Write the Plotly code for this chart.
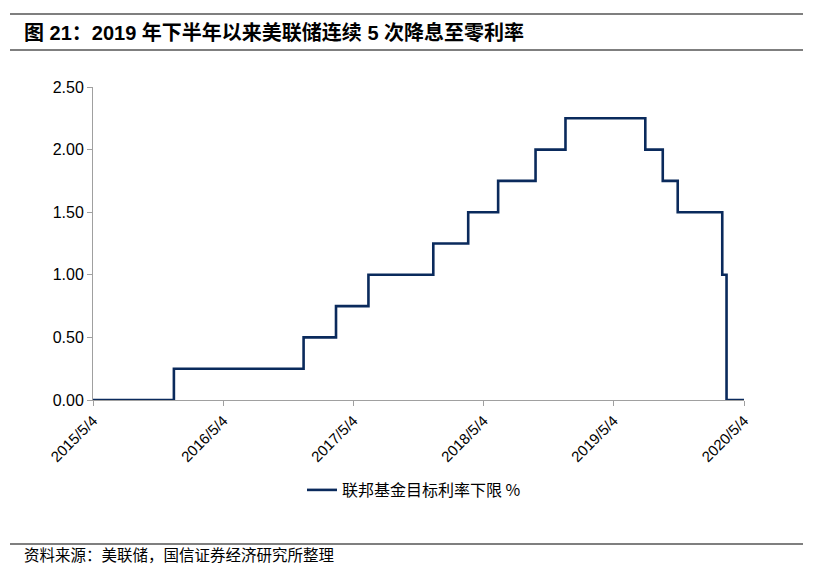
import plotly.graph_objects as go

# Fed funds target lower bound change dates and levels (%)
dates = ["2015-05-04", "2015-12-17", "2016-12-15", "2017-03-16", "2017-06-15",
         "2017-12-14", "2018-03-22", "2018-06-14", "2018-09-27", "2018-12-20",
         "2019-08-01", "2019-09-19", "2019-10-31", "2020-03-04", "2020-03-16",
         "2020-05-04"]
rates = [0.0, 0.25, 0.50, 0.75, 1.00, 1.25, 1.50, 1.75, 2.00, 2.25,
         2.00, 1.75, 1.50, 1.00, 0.00, 0.00]

tick_vals = ["2015-05-04", "2016-05-04", "2017-05-04", "2018-05-04", "2019-05-04", "2020-05-04"]
tick_text = ["2015/5/4", "2016/5/4", "2017/5/4", "2018/5/4", "2019/5/4", "2020/5/4"]

title_text = "图 21：2019 年下半年以来美联储连续 5 次降息至零利率"
source_text = "资料来源：美联储，国信证券经济研究所整理"
series_name = "联邦基金目标利率下限 %"

W, H = 813, 567
L, R, T, B = 93, 69, 87, 167
PW, PH = W - L - R, H - T - B

def px(x):
    return (x - L) / PW

def py(y):
    return (H - B - y) / PH

fig = go.Figure()
fig.add_trace(go.Scatter(
    x=dates, y=rates, mode="lines", line_shape="hv", name=series_name,
    line=dict(color="#0a2a5c", width=2.6),
))

fig.update_layout(
    width=W, height=H,
    margin=dict(l=L, r=R, t=T, b=B),
    plot_bgcolor="white", paper_bgcolor="white",
    font=dict(family="Liberation Sans, Arial, Noto Sans CJK SC", size=13, color="#000"),
    showlegend=True,
    legend=dict(orientation="h", x=px(302), xanchor="left", y=py(490), yanchor="middle",
                font=dict(family="Noto Sans CJK SC", size=16, color="#000")),
    xaxis=dict(
        type="date", range=["2015-05-04", "2020-05-04"],
        tickvals=tick_vals, ticktext=tick_text, tickangle=-45,
        showgrid=False, zeroline=False,
        showline=True, linecolor="#a0a0a0", linewidth=1,
        ticks="outside", ticklen=5, tickcolor="#a0a0a0",
        tickfont=dict(family="Liberation Sans, Arial", size=15, color="#000"),
    ),
    yaxis=dict(
        range=[0, 2.5], dtick=0.5, tickformat=".2f",
        showgrid=False, zeroline=False,
        showline=True, linecolor="#a0a0a0", linewidth=1,
        ticks="outside", ticklen=5, tickcolor="#a0a0a0",
        tickfont=dict(family="Liberation Sans, Arial", size=16, color="#000"),
    ),
    shapes=[
        dict(type="line", xref="paper", yref="paper", x0=px(10), x1=px(803),
             y0=py(14), y1=py(14), line=dict(color="#000", width=1.2)),
        dict(type="line", xref="paper", yref="paper", x0=px(10), x1=px(803),
             y0=py(50), y1=py(50), line=dict(color="#000", width=1.2)),
        dict(type="line", xref="paper", yref="paper", x0=px(10), x1=px(803),
             y0=py(544), y1=py(544), line=dict(color="#000", width=1.2)),
    ],
    annotations=[
        dict(text="<b>" + title_text + "</b>", xref="paper", yref="paper",
             x=px(22), y=py(33), xanchor="left", yanchor="middle", showarrow=False,
             font=dict(family="Liberation Sans, Noto Sans CJK SC", size=20, color="#000")),
        dict(text=source_text, xref="paper", yref="paper",
             x=px(23), y=py(566), xanchor="left", yanchor="bottom", showarrow=False,
             borderpad=0,
             font=dict(family="Noto Sans CJK SC", size=15.5, color="#000")),
    ],
)

fig.write_html("out.html", config={"displayModeBar": False},
               post_script="document.body.style.margin='0';")
